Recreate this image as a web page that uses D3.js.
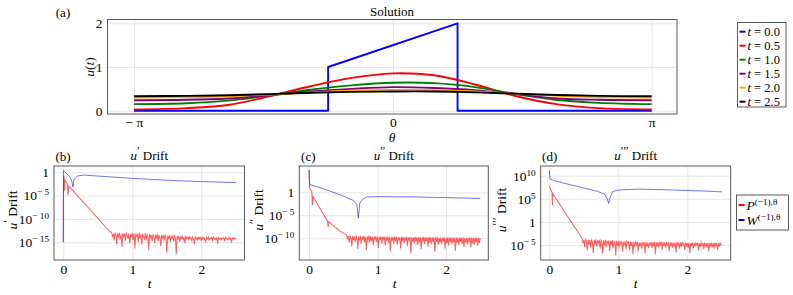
<!DOCTYPE html>
<html>
<head>
<meta charset="utf-8">
<script src="https://cdn.jsdelivr.net/npm/d3@7"></script>
<style>
body { margin: 0; background: #fff; }
</style>
</head>
<body>
<svg id="chart" width="793" height="295"></svg>
<script>
// ---- (a) solution u(theta) at several times ----
var thetaPts = [-Math.PI, -2.5, -2, -1.5, -1, -0.5, 0, 0.5, 1, 1.5, 2, 2.5, Math.PI];
var u05 = [0.03, 0.06, 0.13, 0.33, 0.56, 0.75, 0.855, 0.81, 0.60, 0.33, 0.145, 0.06, 0.03];
var u10 = [0.15, 0.17, 0.23, 0.35, 0.48, 0.58, 0.64, 0.63, 0.54, 0.38, 0.245, 0.18, 0.15];
var u15 = [0.24, 0.25, 0.28, 0.35, 0.44, 0.50, 0.54, 0.52, 0.47, 0.38, 0.28, 0.25, 0.24];
var u20 = [0.30, 0.31, 0.33, 0.37, 0.42, 0.46, 0.475, 0.47, 0.44, 0.39, 0.34, 0.31, 0.30];
var u25 = [0.33, 0.34, 0.355, 0.38, 0.41, 0.43, 0.44, 0.44, 0.42, 0.39, 0.36, 0.34, 0.33];
// initial condition, piecewise linear
var u0Theta = [-Math.PI, -Math.PI / 4, -Math.PI / 4, Math.PI / 4, Math.PI / 4, Math.PI];
var u0Vals = [0, 0, 1, 2, 0, 0];
var solTimes = ["0.0", "0.5", "1.0", "1.5", "2.0", "2.5"];
var solColors = ["#0000ff", "#ff0000", "#008000", "#800080", "#ffa500", "#000000"];

// ---- (b)-(d) drift, [t, log10(drift)] ----
var bRed = [[0, -15], [0.003, -0.8], [0.012, -1.2], [0.018, -3.9], [0.025, -1.6], [0.045, -2.2], [0.06, -2.6], [0.07, -4.9], [0.08, -2.9], [0.1, -3.3], [0.68, -12.8]];
var bBlue = [[0, -15], [0.002, 0.4], [0.05, -0.3], [0.1, -1.1], [0.125, -2.0], [0.14, -3.2], [0.155, -1.6], [0.2, -0.8], [0.3, -0.6], [0.5, -0.8], [1.0, -1.3], [1.5, -1.7], [2.0, -2.0], [2.5, -2.2]];
// noisy floor, one value every noiseStep from the start time
var bNoise = [-12.8, -13.9, -13.2, -14.6, -12.9, -13.5, -15.4, -13.1, -14.0, -13.0,
  -14.4, -13.3, -16.0, -13.0, -13.8, -13.2, -14.7, -12.9, -13.6, -14.2,
  -13.1, -15.2, -13.3, -13.9, -13.0, -14.5, -13.2, -16.3, -13.1, -13.7,
  -13.4, -14.9, -13.0, -14.1, -13.3, -15.5, -13.2, -13.8, -14.3, -13.1,
  -14.6, -13.4, -13.9, -16.6, -13.2, -14.0, -13.5, -14.8, -13.3, -13.9,
  -15.1, -13.4, -14.2, -13.3, -14.7, -13.6, -13.9, -15.8, -13.4, -14.1,
  -13.5, -14.6, -13.3, -14.0, -17.2, -13.6, -14.3, -13.5, -15.0, -13.7,
  -14.1, -13.6, -14.8, -13.5, -14.2, -17.5, -13.7, -14.4, -13.6, -14.9,
  -13.8, -14.2, -13.7, -14.5, -13.9, -15.2, -13.8, -14.2, -13.9, -14.4,
  -13.8, -14.3, -14.0, -14.6, -13.9, -14.2, -15.4, -13.9, -14.3, -14.0,
  -14.5, -13.9, -14.2, -14.0, -14.7, -13.9, -14.3, -14.0, -14.4, -15.0,
  -14.0, -14.3, -13.9, -14.5, -14.1, -14.2, -14.0, -14.6, -13.9, -14.3,
  -14.1, -14.4, -14.0, -15.3, -14.0, -14.3, -14.1, -14.5, -14.0, -14.2,
  -14.1, -14.6, -14.0, -14.3, -14.2, -14.4, -14.0, -14.3, -14.1, -15.1,
  -14.1, -14.3, -14.0, -14.4, -14.1];

var cRed = [[0, 4.8], [0.01, 1.0], [0.02, 0.6], [0.04, 0.3], [0.05, -2.8], [0.06, -0.9], [0.12, -2.5], [0.2, -4.5], [0.27, -6.3], [0.28, -7.6], [0.29, -6.4], [0.35, -7.2], [0.45, -8.4], [0.55, -9.3]];
var cBlue = [[0, 4.8], [0.01, 1.7], [0.1, 1.3], [0.3, 0.3], [0.5, -0.8], [0.65, -1.8], [0.7, -2.7], [0.72, -5.6], [0.74, -2.4], [0.78, -1.5], [0.85, -1.0], [1.0, -0.95], [1.5, -1.0], [2.0, -1.15], [2.5, -1.35]];
var cNoise = [-9.3, -10.2, -9.5, -10.9, -9.4, -10.0, -11.8, -9.5, -10.4, -9.6,
  -10.8, -9.4, -10.1, -12.3, -9.6, -10.5, -9.5, -11.2, -9.6, -10.3,
  -9.5, -10.9, -9.6, -12.6, -9.6, -10.2, -9.5, -11.0, -9.5, -10.6,
  -9.7, -11.5, -9.6, -10.3, -9.6, -10.8, -9.6, -12.1, -9.7, -10.4,
  -9.6, -11.1, -9.7, -10.2, -9.6, -11.6, -9.7, -10.5, -9.6, -10.9,
  -9.7, -12.8, -9.7, -10.4, -9.7, -11.2, -9.6, -10.6, -9.7, -11.4,
  -9.7, -10.3, -9.8, -12.2, -9.7, -10.7, -9.7, -11.0, -9.8, -10.5,
  -9.7, -11.7, -9.8, -10.4, -9.7, -13.2, -9.8, -10.8, -9.8, -11.1,
  -9.7, -10.6, -9.8, -11.5, -9.7, -10.9, -9.8, -12.4, -9.8, -10.7,
  -9.7, -11.2, -9.8, -10.6, -9.8, -11.8, -9.7, -10.9, -9.8, -11.3,
  -9.8, -10.7, -9.8, -12.9, -9.8, -10.8, -9.7, -11.4, -9.9, -10.9,
  -9.8, -11.1, -9.9, -10.7, -9.8, -12.2, -9.9, -11.0, -9.8, -11.6,
  -9.9, -10.8, -9.8, -11.3, -9.8, -10.9, -9.9, -12.7, -9.8, -11.0,
  -9.9, -11.5, -9.8, -10.8, -9.9, -11.2, -9.8, -11.9, -9.9, -10.9,
  -9.9, -11.3, -9.9, -10.8, -9.8, -12.0, -9.9, -11.1, -9.9, -11.4,
  -9.9, -10.9, -9.9, -11.6, -9.9, -11.0, -10.0];

var dRed = [[0, 7.7], [0.02, 7.0], [0.04, 6.4], [0.045, 3.6], [0.05, 6.1], [0.475, -3.6]];
var dBlue = [[0, 11.2], [0.01, 9.3], [0.1, 8.8], [0.4, 7.7], [0.7, 6.6], [0.8, 6.0], [0.84, 5.0], [0.86, 4.0], [0.88, 5.2], [0.92, 6.6], [1.0, 6.9], [1.3, 7.1], [1.8, 6.9], [2.2, 6.7], [2.5, 6.5]];
var dNoise = [-3.6, -4.6, -3.9, -5.4, -3.7, -4.3, -6.2, -3.8, -4.8, -3.9,
  -5.6, -3.8, -4.5, -6.7, -3.9, -4.9, -3.8, -5.3, -4.0, -4.6,
  -3.9, -5.8, -4.0, -4.4, -6.9, -4.0, -5.0, -3.9, -5.5, -4.1,
  -4.7, -4.0, -6.3, -4.1, -4.9, -4.0, -5.7, -4.2, -4.5, -7.2,
  -4.1, -5.1, -4.2, -5.6, -4.1, -4.8, -4.2, -6.5, -4.3, -5.0,
  -4.2, -5.9, -4.3, -4.7, -4.2, -6.1, -4.3, -5.2, -4.4, -7.0,
  -4.3, -5.4, -4.4, -4.9, -4.3, -6.4, -4.4, -5.1, -4.5, -5.8,
  -4.4, -4.9, -4.5, -6.8, -4.4, -5.3, -4.5, -5.7, -4.6, -5.0,
  -4.3, -5.7, -4.4, -5.0, -4.3, -7.0, -4.4, -5.3, -4.4, -5.6,
  -4.3, -4.9, -4.4, -6.0, -4.3, -5.2, -4.4, -5.5, -4.5, -5.0,
  -4.4, -6.3, -4.5, -5.1, -4.4, -5.6, -4.5, -5.2, -4.5, -6.6,
  -4.4, -5.1, -4.5, -5.8, -4.4, -5.3, -4.5, -5.0, -4.6, -6.1,
  -4.5, -5.2, -4.6, -5.6, -4.5, -6.8, -4.6, -5.1, -4.5, -5.7,
  -4.5, -5.3, -4.6, -5.0, -4.5, -6.2, -4.6, -5.4, -4.5, -5.1,
  -4.6, -5.9, -4.5, -5.2, -4.6, -5.6, -4.5, -6.4, -4.6, -5.1,
  -4.5, -5.5, -4.6, -5.8, -4.5, -5.2, -4.6, -6.0, -4.6, -5.3,
  -4.5, -5.0, -4.8];
var noiseStep = 0.0125;

var font = "'Liberation Serif', 'Times New Roman', serif";
var svg = d3.select("#chart").attr("font-family", font);
var frameColor = "#5a5a5a", gridColor = "#e6e6e6";

function sup(sel, base, s, italic, size) {
  var b = sel.append("tspan").text(base);
  if (italic) b.attr("font-style", "italic");
  sel.append("tspan").attr("dy", -5).attr("font-size", size || "0.68em").text(s);
}

function clip(id, x, y, w, h) {
  svg.append("clipPath").attr("id", id).append("rect")
    .attr("x", x).attr("y", y).attr("width", w).attr("height", h);
}

// axis groups: d3 puts its own sans-serif on the group, take it off
function plain(g, size) {
  g.attr("font-family", font).select(".domain").remove();
  g.selectAll("text").attr("font-size", size).attr("fill", "#000");
}

function grid(g) {
  g.select(".domain").remove();
  g.selectAll("line").attr("stroke", gridColor);
}

// ================= (a) Solution =================
var fa = {l: 107.5, t: 19.5, r: 677, b: 114};
var solX = d3.scaleLinear().domain([-Math.PI, Math.PI]).range([134, 651.7]);
var solY = d3.scaleLinear().domain([0, 2]).range([110.7, 23.3]);

svg.append("g").attr("transform", "translate(0," + fa.b + ")")
  .call(d3.axisBottom(solX).tickValues([-Math.PI, 0, Math.PI]).tickSize(-(fa.b - fa.t)).tickFormat(""))
  .call(grid);
svg.append("g").attr("transform", "translate(" + fa.l + ",0)")
  .call(d3.axisLeft(solY).tickValues([0, 1, 2]).tickSize(-(fa.r - fa.l)).tickFormat(""))
  .call(grid);

svg.append("g").attr("transform", "translate(0," + fa.b + ")")
  .call(d3.axisBottom(solX).tickValues([-Math.PI, 0, Math.PI]).tickSize(0).tickPadding(3)
    .tickFormat(function(d) { return d < 0 ? "\u2212 \u03c0" : (d > 0 ? "\u03c0" : "0"); }))
  .call(plain, 13.5);
svg.append("g").attr("transform", "translate(" + (fa.l - 2) + ",0)")
  .call(d3.axisLeft(solY).tickValues([0, 1, 2]).tickSize(0).tickPadding(3).tickFormat(d3.format("d")))
  .call(plain, 13.5);

clip("clipA", fa.l, fa.t, fa.r - fa.l, fa.b - fa.t);
var solSeries = [d3.zip(u0Theta, u0Vals), d3.zip(thetaPts, u05), d3.zip(thetaPts, u10),
  d3.zip(thetaPts, u15), d3.zip(thetaPts, u20), d3.zip(thetaPts, u25)];
var smooth = d3.line().x(function(d) { return solX(d[0]); }).y(function(d) { return solY(d[1]); })
  .curve(d3.curveCatmullRom.alpha(0.5));
var straight = d3.line().x(function(d) { return solX(d[0]); }).y(function(d) { return solY(d[1]); });
svg.append("g").attr("clip-path", "url(#clipA)").selectAll("path").data(solSeries).join("path")
  .attr("d", function(d, i) { return i == 0 ? straight(d) : smooth(d); })
  .attr("fill", "none").attr("stroke", function(d, i) { return solColors[i]; })
  .attr("stroke-width", 1.9).attr("stroke-linejoin", "round");

svg.append("rect").attr("x", fa.l).attr("y", fa.t).attr("width", fa.r - fa.l).attr("height", fa.b - fa.t)
  .attr("fill", "none").attr("stroke", frameColor).attr("stroke-width", 1);

svg.append("text").attr("x", 392).attr("y", 16).attr("text-anchor", "middle").attr("font-size", 13).text("Solution");
svg.append("text").attr("x", 63).attr("y", 17).attr("text-anchor", "middle").attr("font-size", 13).text("(a)");
svg.append("text").attr("x", 392).attr("y", 142).attr("text-anchor", "middle").attr("font-size", 13.5)
  .attr("font-style", "italic").text("\u03b8");
svg.append("text").attr("transform", "translate(94,67) rotate(-90)").attr("text-anchor", "middle").attr("font-size", 13.5)
  .call(function(t) {
    t.append("tspan").attr("font-style", "italic").text("u");
    t.append("tspan").text("(");
    t.append("tspan").attr("font-style", "italic").text("t");
    t.append("tspan").text(")");
  });

// legend (a)
var lgA = svg.append("g");
lgA.append("rect").attr("x", 737.5).attr("y", 22.5).attr("width", 48.5).attr("height", 84.5)
  .attr("fill", "#fff").attr("stroke", frameColor);
solTimes.forEach(function(s, i) {
  var y = 31.7 + 14 * i;
  lgA.append("line").attr("x1", 739.5).attr("x2", 745.5).attr("y1", y).attr("y2", y)
    .attr("stroke", solColors[i]).attr("stroke-width", 2);
  var t = lgA.append("text").attr("x", 747.5).attr("y", y + 4.2).attr("font-size", 12.5);
  t.append("tspan").attr("font-style", "italic").text("t");
  t.append("tspan").text(" = " + s);
});

// ================= (b)-(d) drift panels =================
function withNoise(pre, noise, start) {
  var pts = pre.slice();
  noise.forEach(function(v, i) { pts.push([start + i * noiseStep, v]); });
  return pts;
}

function driftPanel(p) {
  var x = d3.scaleLinear().domain([0, 2.5]).range([p.x0, p.x0 + 2.5 * p.kx]);
  var y = d3.scaleLog().domain(p.ydom).range(p.yrange);
  var h = p.b - p.t, w = p.r - p.l;

  svg.append("g").attr("transform", "translate(0," + p.b + ")")
    .call(d3.axisBottom(x).tickValues([0, 1, 2]).tickSize(-h).tickFormat(""))
    .call(grid);
  svg.append("g").attr("transform", "translate(" + p.l + ",0)")
    .call(d3.axisLeft(y).tickValues(p.yticks).tickSize(-w).tickFormat(""))
    .call(grid);

  svg.append("g").attr("transform", "translate(0," + p.b + ")")
    .call(d3.axisBottom(x).tickValues([0, 1, 2]).tickSize(0).tickPadding(4).tickFormat(d3.format("d")))
    .call(plain, 13.5);
  svg.append("g").attr("transform", "translate(" + (p.l - 2) + ",0)")
    .call(d3.axisLeft(y).tickValues(p.yticks).tickSize(0).tickPadding(3).tickFormat(""))
    .call(plain, 13.5)
    .call(function(g) {
      g.selectAll(".tick text").each(function(d) {
        var e = Math.round(Math.log10(d)), t = d3.select(this);
        if (e == 0) t.text("1");
        else sup(t, "10", (e < 0 ? "\u2212 " : "") + Math.abs(e));
      });
    });

  clip(p.id, p.l, p.t, w, h);
  var line = d3.line().x(function(d) { return x(d[0]); }).y(function(d) { return y(Math.pow(10, d[1])); });
  var g = svg.append("g").attr("clip-path", "url(#" + p.id + ")");
  g.append("path").attr("d", line(p.blue)).attr("fill", "none").attr("stroke", "#0000ff")
    .attr("stroke-opacity", 0.55).attr("stroke-width", 1);
  g.append("path").attr("d", line(p.red)).attr("fill", "none").attr("stroke", "#ff0000")
    .attr("stroke-opacity", 0.62).attr("stroke-width", 1.05);

  svg.append("rect").attr("x", p.l).attr("y", p.t).attr("width", w).attr("height", h)
    .attr("fill", "none").attr("stroke", frameColor);

  svg.append("text").attr("x", p.l + 9).attr("y", 161).attr("text-anchor", "middle").attr("font-size", 13).text(p.tag);
  var tt = svg.append("text").attr("x", (p.l + p.r) / 2).attr("y", 160).attr("text-anchor", "middle").attr("font-size", 13);
  sup(tt, "u", p.primes, true, "0.9em");
  tt.append("tspan").attr("dy", 5).text(" Drift");
  svg.append("text").attr("x", x(1.25)).attr("y", 288).attr("text-anchor", "middle").attr("font-size", 13.5)
    .attr("font-style", "italic").text("t");
  var yl = svg.append("text").attr("transform", "translate(" + p.ylx + ",210) rotate(-90)")
    .attr("text-anchor", "middle").attr("font-size", 13.5);
  sup(yl, "u", p.primes, true, "0.9em");
  yl.append("tspan").attr("dy", 5).text(" Drift");
}

driftPanel({id: "clipB", tag: "(b)", primes: "\u2032", l: 54, r: 244.5, t: 166, b: 260, x0: 63.3, kx: 69,
  ydom: [1e-15, 1], yrange: [242.3, 172.3], yticks: [1, 1e-5, 1e-10, 1e-15], ylx: 17,
  red: withNoise(bRed, bNoise, 0.7), blue: bBlue});
driftPanel({id: "clipC", tag: "(c)", primes: "\u2032\u2032", l: 299.3, r: 488.3, t: 166, b: 260, x0: 309, kx: 68.5,
  ydom: [1e-10, 1], yrange: [238.3, 192.3], yticks: [1, 1e-5, 1e-10], ylx: 263,
  red: withNoise(cRed, cNoise, 0.55), blue: cBlue});
driftPanel({id: "clipD", tag: "(d)", primes: "\u2032\u2032\u2032", l: 540.7, r: 730.7, t: 166, b: 260, x0: 549.3, kx: 69,
  ydom: [1e-5, 1e10], yrange: [245, 175.7], yticks: [1e10, 1e5, 1, 1e-5], ylx: 506,
  red: withNoise(dRed, dNoise, 0.475), blue: dBlue});

// legend (b-d)
var lgB = svg.append("g");
lgB.append("rect").attr("x", 736.5).attr("y", 195).attr("width", 52).attr("height", 35)
  .attr("fill", "#fff").attr("stroke", frameColor);
[["P", "#ff0000"], ["W", "#0000ff"]].forEach(function(e, i) {
  var y = 205 + 15 * i;
  lgB.append("line").attr("x1", 738.5).attr("x2", 744.5).attr("y1", y).attr("y2", y)
    .attr("stroke", e[1]).attr("stroke-width", 2);
  var t = lgB.append("text").attr("x", 746.5).attr("y", y + 4.5).attr("font-size", 13.5);
  sup(t, e[0], "(\u22121),\u03b8", true);
});
</script>
</body>
</html>
